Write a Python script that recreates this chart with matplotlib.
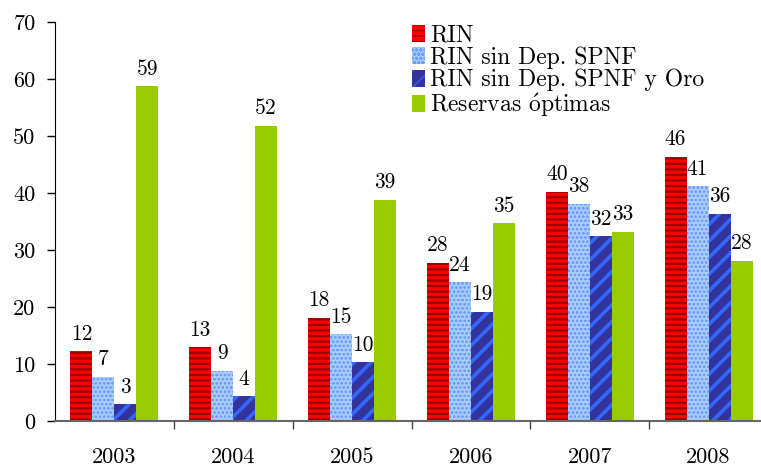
import numpy as np
import matplotlib.pyplot as plt

# Datos
anios = ["2003", "2004", "2005", "2006", "2007", "2008"]
rin = [12.2, 12.9, 18.1, 27.8, 40.2, 46.3]
rin_sin_spnf = [7.8, 8.8, 15.2, 24.3, 38.1, 41.2]
rin_sin_spnf_oro = [2.9, 4.3, 10.3, 19.2, 32.4, 36.3]
reservas_optimas = [58.7, 51.8, 38.8, 34.7, 33.2, 28.1]

etiquetas_rin = ["12", "13", "18", "28", "40", "46"]
etiquetas_sin_spnf = ["7", "9", "15", "24", "38", "41"]
etiquetas_sin_spnf_oro = ["3", "4", "10", "19", "32", "36"]
etiquetas_optimas = ["59", "52", "39", "35", "33", "28"]

series = ["RIN", "RIN sin Dep. SPNF", "RIN sin Dep. SPNF y Oro",
          r"Reservas $\acute{\rm o}$ptimas"]

plt.rcParams["font.family"] = ["cmr10", "DejaVu Serif"]
plt.rcParams["mathtext.fontset"] = "cm"
plt.rcParams["axes.unicode_minus"] = False

fig = plt.figure(figsize=(7.61, 4.68), dpi=100)
ax = fig.add_axes([55 / 761, 47 / 468, 713 / 761, 399 / 468])

x = np.arange(len(anios))
w = 0.185

estilos = [
    (rin, etiquetas_rin, "#ff0000", "#990000", "---", 1.6),
    (rin_sin_spnf, etiquetas_sin_spnf, "#a8ccff", "#6f9dff", "oooo", 0.5),
    (rin_sin_spnf_oro, etiquetas_sin_spnf_oro, "#32339c", "#3366ff", "//", 2.6),
    (reservas_optimas, etiquetas_optimas, "#99cc00", "#99cc00", "", 0.0),
]

for i, (vals, etiq, cara, borde, patron, lw_hatch) in enumerate(estilos):
    pos = x + (i - 1.5) * w
    with plt.rc_context({"hatch.linewidth": lw_hatch, "hatch.color": borde}):
        barras = ax.bar(pos, vals, width=w, color=cara, edgecolor=borde,
                        hatch=patron, linewidth=0, label=series[i])
    for b, t in zip(barras, etiq):
        ax.annotate(t, (b.get_x() + b.get_width() / 2, b.get_height()),
                    xytext=(0, 5.5), textcoords="offset points",
                    ha="center", va="bottom", fontsize=15.5)

ax.set_xlim(-0.5, 5.5)
ax.set_ylim(0, 70)
ax.set_yticks(range(0, 71, 10))
ax.tick_params(axis="y", labelsize=16, length=6, width=1, direction="out", pad=8)

# marcas entre grupos, etiquetas en el centro
ax.set_xticks(np.arange(0.5, 5.5, 1.0))
ax.set_xticklabels([])
ax.set_xticks(x, minor=True)
ax.set_xticklabels(anios, minor=True)
ax.tick_params(axis="x", which="major", length=6, width=1, color="#444444", direction="out")
ax.tick_params(axis="x", which="minor", length=0, labelsize=16, pad=19)

ax.spines["top"].set_visible(False)
ax.spines["right"].set_visible(False)
ax.spines["bottom"].set_color("#666666")
ax.spines["bottom"].set_linewidth(1.5)

ax.legend(loc="upper left", bbox_to_anchor=(0.488, 1.018), frameon=False,
          fontsize=17, handlelength=0.55, handleheight=0.75, handletextpad=0.2,
          labelspacing=0.0, borderaxespad=0)

fig.savefig("out.png", dpi=100)
